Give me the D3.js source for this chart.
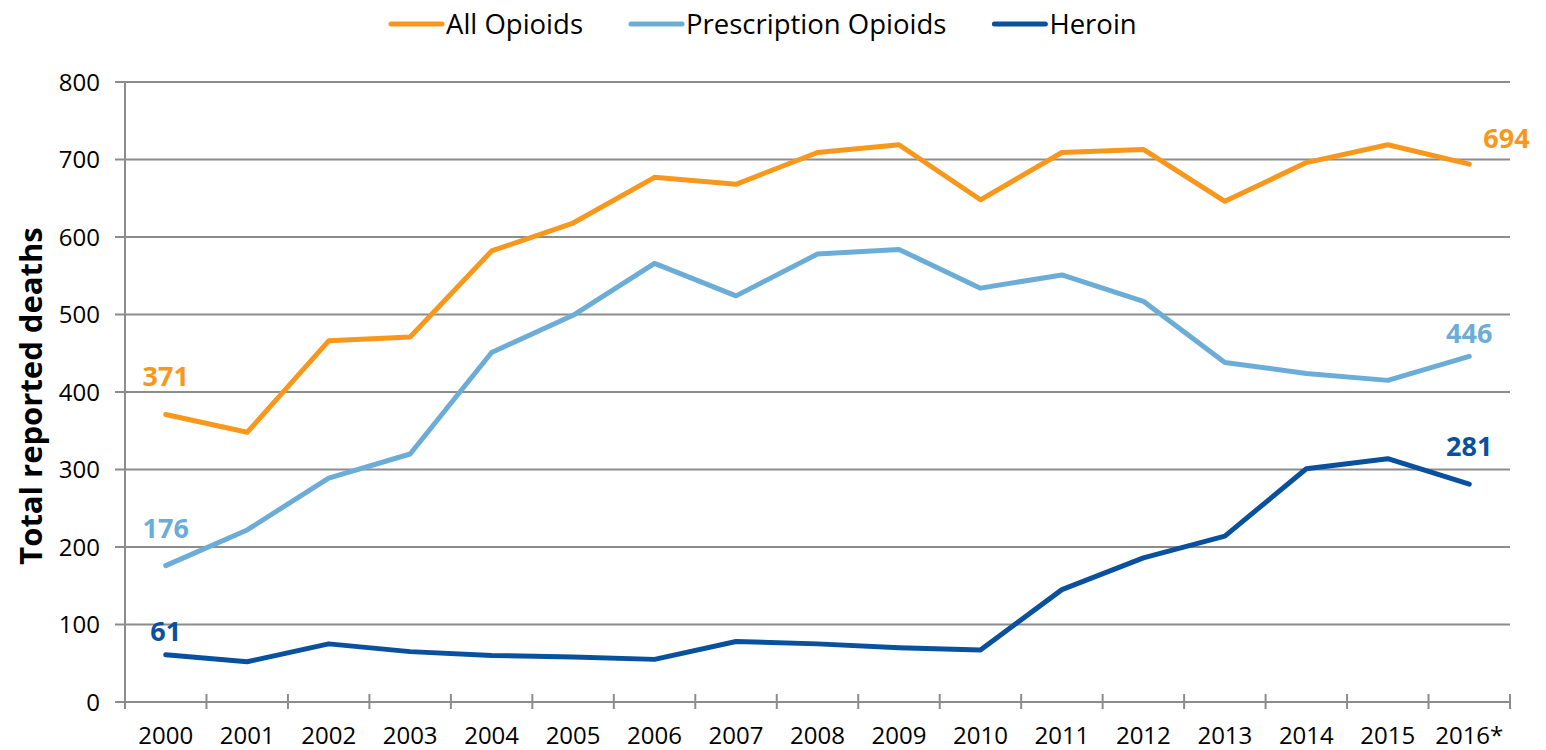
<!DOCTYPE html>
<html>
<head>
<meta charset="utf-8">
<script src="https://cdn.jsdelivr.net/npm/d3@7"></script>
<style>
  body { margin: 0; background: #fff; }
  svg { font-family: "Open Sans", Lato, sans-serif; }
</style>
</head>
<body>
<div id="chart"></div>
<script>
// categories and series
const years = ["2000","2001","2002","2003","2004","2005","2006","2007","2008",
               "2009","2010","2011","2012","2013","2014","2015","2016*"];
const allOpioids = [371, 348, 466, 471, 582, 618, 677, 668, 709, 719, 648, 709, 713, 646, 696, 719, 694];
const prescriptionOpioids = [176, 222, 289, 320, 451, 499, 566, 524, 578, 584, 534, 551, 517, 438, 424, 415, 446];
const heroin = [61, 52, 75, 65, 60, 58, 55, 78, 75, 70, 67, 145, 186, 214, 301, 314, 281];
const seriesNames = ["All Opioids", "Prescription Opioids", "Heroin"];
const yTicks = [0, 100, 200, 300, 400, 500, 600, 700, 800];

const colors = ["#f7981d", "#6cadd8", "#0a519d"];
const series = [allOpioids, prescriptionOpioids, heroin];

const W = 1546, H = 750;
const margin = {top: 82, right: 36, bottom: 48, left: 125},
  width = W - margin.left - margin.right,
  height = H - margin.top - margin.bottom;

const svg = d3.select("#chart")
  .append("svg")
  .attr("width", W)
  .attr("height", H);

const g = svg.append("g")
  .attr("transform", `translate(${margin.left},${margin.top})`);

const x = d3.scaleBand()
  .domain(years)
  .range([0, width])
  .padding(0);

const y = d3.scaleLinear()
  .domain([0, 800])
  .range([height, 0]);

const gridColor = "#8c8c8c";

// horizontal gridlines (extend left as y tick marks)
g.append("g")
  .selectAll("line")
  .data(yTicks)
  .join("line")
    .attr("x1", -10)
    .attr("x2", width)
    .attr("y1", d => y(d))
    .attr("y2", d => y(d))
    .attr("stroke", gridColor)
    .attr("stroke-width", 2);

// y axis line
g.append("line")
  .attr("x1", 0).attr("x2", 0)
  .attr("y1", y(800)).attr("y2", height)
  .attr("stroke", gridColor)
  .attr("stroke-width", 2);

// y tick labels
g.append("g")
  .selectAll("text")
  .data(yTicks)
  .join("text")
    .attr("x", -25)
    .attr("y", d => y(d))
    .attr("dy", "0.36em")
    .attr("text-anchor", "end")
    .style("font-size", "24px")
    .attr("fill", "#000")
    .text(d => d);

// x tick marks at the band edges
const edges = years.map(d => x(d)).concat([width]);
g.append("g")
  .selectAll("line")
  .data(edges)
  .join("line")
    .attr("x1", d => d).attr("x2", d => d)
    .attr("y1", height - 8).attr("y2", height + 7)
    .attr("stroke", gridColor)
    .attr("stroke-width", 2);

// x tick labels
g.append("g")
  .selectAll("text")
  .data(years)
  .join("text")
    .attr("x", d => x(d) + x.bandwidth() / 2)
    .attr("y", height + 42)
    .attr("text-anchor", "middle")
    .style("font-size", "24px")
    .attr("fill", "#000")
    .text(d => d);

// y axis title
svg.append("text")
  .attr("transform", "translate(42,396) rotate(-90)")
  .attr("text-anchor", "middle")
  .style("font-size", "31px")
  .style("font-weight", "bold")
  .attr("fill", "#000")
  .text("Total reported deaths");

// lines
const line = d3.line()
  .x((d, i) => x(years[i]) + x.bandwidth() / 2)
  .y(d => y(d));

series.forEach(function(s, k) {
  g.append("path")
    .datum(s)
    .attr("d", line)
    .attr("fill", "none")
    .attr("stroke", colors[k])
    .attr("stroke-width", 5)
    .attr("stroke-linejoin", "round")
    .attr("stroke-linecap", "round");
});

// data labels: series index, point index, offsets
const labels = [
  {s: 0, i: 0, dx: 0, dy: -28, anchor: "middle"},
  {s: 1, i: 0, dx: 0, dy: -28, anchor: "middle"},
  {s: 2, i: 0, dx: 0, dy: -14, anchor: "middle"},
  {s: 0, i: 16, dx: 14, dy: -16, anchor: "start"},
  {s: 1, i: 16, dx: 0, dy: -13, anchor: "middle"},
  {s: 2, i: 16, dx: 0, dy: -28, anchor: "middle"}
];
g.append("g")
  .selectAll("text")
  .data(labels)
  .join("text")
    .attr("x", d => x(years[d.i]) + x.bandwidth() / 2 + d.dx)
    .attr("y", d => y(series[d.s][d.i]) + d.dy)
    .attr("text-anchor", d => d.anchor)
    .style("font-size", "27px")
    .style("font-weight", "bold")
    .attr("fill", d => colors[d.s])
    .text(d => series[d.s][d.i]);

// legend
const legend = svg.append("g");
let lx = 389;
seriesNames.forEach(function(name, k) {
  legend.append("line")
    .attr("x1", lx + 2).attr("x2", lx + 53)
    .attr("y1", 24).attr("y2", 24)
    .attr("stroke", colors[k])
    .attr("stroke-width", 5)
    .attr("stroke-linecap", "round");
  const t = legend.append("text")
    .attr("x", lx + 57)
    .attr("y", 24)
    .attr("dy", "0.36em")
    .style("font-size", "27.5px")
    .attr("fill", "#000")
    .text(name);
  lx += 57 + t.node().getComputedTextLength() + 46;
});
</script>
</body>
</html>
